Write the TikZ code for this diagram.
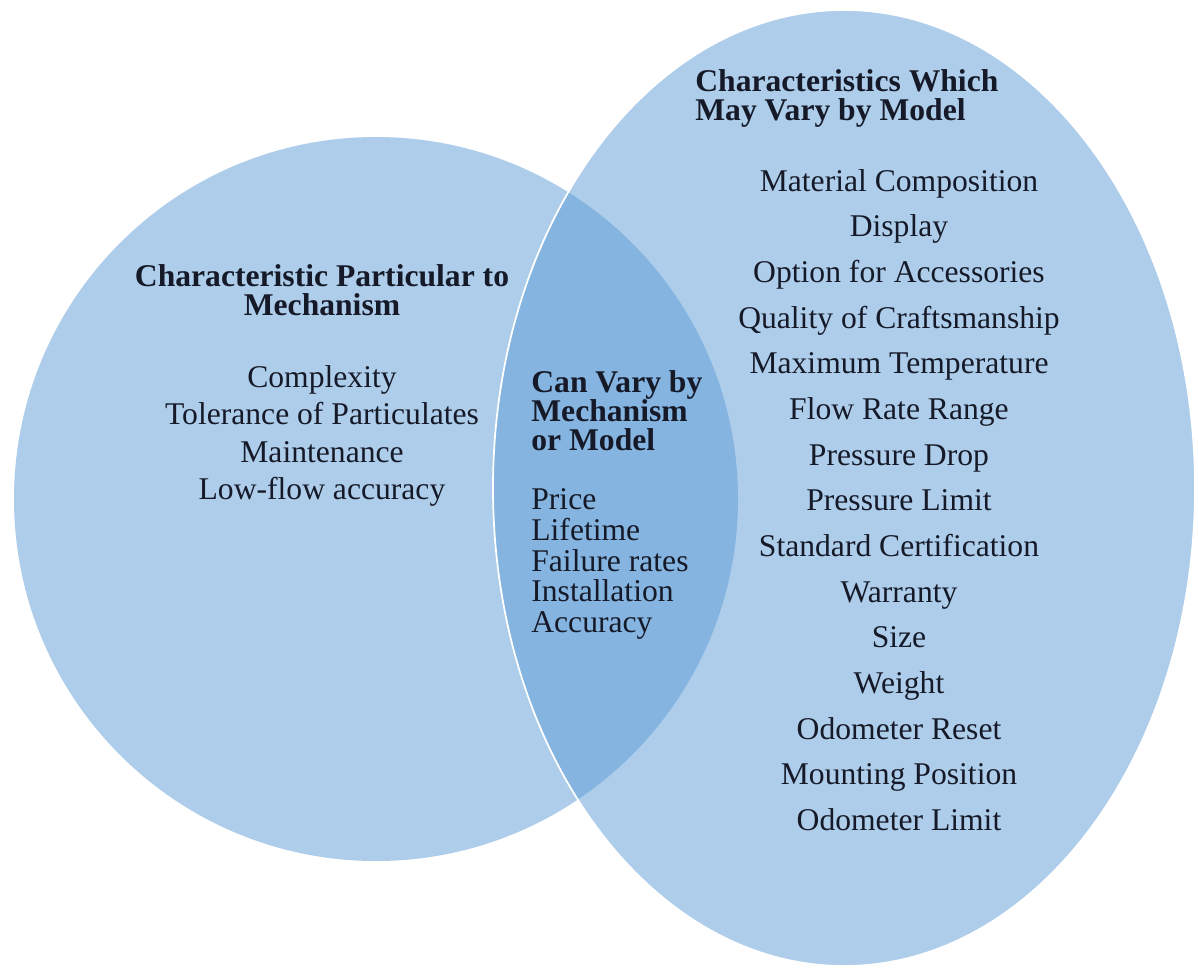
\documentclass[tikz,border=0pt]{standalone}
\usepackage{fontspec}
\setmainfont{Liberation Serif}
\usetikzlibrary{positioning}
\definecolor{vennblue}{RGB}{91,155,213}
\definecolor{inktext}{RGB}{22,26,40}
\tikzset{
vennset/.style={fill=vennblue, fill opacity=0.5}, % each set is half see-through, so the overlap comes out darker
vennedge/.style={draw=white, line width=1pt}, % thin white rim of the right set
head/.style={font=\bfseries\fontsize{18}{16.5}\selectfont, text=inktext, inner sep=0pt}, % bold set titles
items/.style={font=\fontsize{18}{26}\selectfont, text=inktext, inner sep=0pt}, % lists of characteristics
}

\begin{document}
\begin{tikzpicture}[x=0.02cm, y=-0.02cm]
        \useasboundingbox (0,0) rectangle (1198,968);

        % the two sets
        \fill[vennset] (376,499) circle (362);
        \path[vennset] (844,488) ellipse (351 and 478);
        \draw[vennedge] (844,488) ellipse (351 and 478);

        % left set
        \node[head, align=center] (mechhead) at (322,290)
            {Characteristic Particular to\\Mechanism};
        \node[items, align=center, font=\fontsize{18}{21.3}\selectfont] (mechlist) at (322,436)
            {Complexity\\Tolerance of Particulates\\Maintenance\\Low-flow accuracy};

        % overlap
        \node[head, align=left, anchor=west] (bothhead) at (531,411)
            {Can Vary by\\Mechanism\\or Model};
        \node[items, align=left, anchor=west, font=\fontsize{18}{17.6}\selectfont] (bothlist) at (531,564)
            {Price\\Lifetime\\Failure rates\\Installation\\Accuracy};

        % right set
        \node[head, align=left, anchor=west] (modelhead) at (695,98)
            {Characteristics Which\\May Vary by Model};
        \node[items, align=center] (modellist) at (899,500)
            {Material Composition\\Display\\Option for Accessories\\Quality of Craftsmanship\\Maximum Temperature\\Flow Rate Range\\Pressure Drop\\Pressure Limit\\Standard Certification\\Warranty\\Size\\Weight\\Odometer Reset\\Mounting Position\\Odometer Limit};
\end{tikzpicture}
\end{document}
